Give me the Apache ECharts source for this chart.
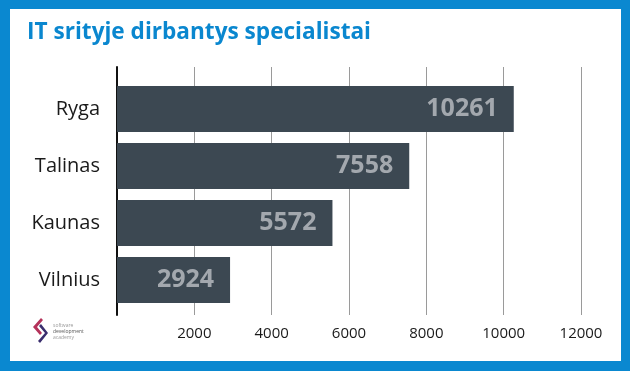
<!DOCTYPE html>
<html>
<head>
<meta charset="utf-8">
<script src="https://cdn.jsdelivr.net/npm/echarts@6/dist/echarts.min.js"></script>
<style>
html,body{margin:0;padding:0;}
#wrap{position:relative;width:630px;height:371px;background:#0a88d0;overflow:hidden;}
#white{position:absolute;left:10px;top:9px;width:611px;height:352px;background:#ffffff;}
#chart{position:absolute;left:0;top:0;width:630px;height:371px;}
</style>
</head>
<body>
<div id="wrap"><div id="white"></div><div id="chart"></div></div>
<script>
const titleText = 'IT srityje dirbantys specialistai';
const categories = ['Ryga', 'Talinas', 'Kaunas', 'Vilnius'];
const values = [10261, 7558, 5572, 2924];
const xTicks = [0, 2000, 4000, 6000, 8000, 10000, 12000];

const chart = echarts.init(document.getElementById('chart'), null, {renderer: 'canvas'});
const font = '"Open Sans", "Noto Sans", sans-serif';
const option = {
  animation: false,
  title: {
    text: titleText,
    left: 27,
    top: 21,
    padding: 0,
    textStyle: {color: '#0a87cf', fontSize: 22.6, fontWeight: 'bold', fontFamily: font}
  },
  grid: [
    {left: 117, right: 49, top: 80.5, bottom: 62.5},
    {left: 117, right: 49, top: 67, bottom: 56}
  ],
  xAxis: [
    {gridIndex: 0, type: 'value', min: xTicks[0], max: xTicks[xTicks.length - 1], interval: 2000,
     show: false},
    {gridIndex: 1, type: 'value', min: xTicks[0], max: xTicks[xTicks.length - 1], interval: 2000,
     axisLine: {show: false}, axisTick: {show: false},
     splitLine: {show: true, lineStyle: {color: '#9a9a9a', width: 1}},
     axisLabel: {show: true, showMinLabel: false, margin: 11, color: '#1a1a1a', fontSize: 15, fontFamily: font,
       formatter: function (v) { return xTicks.indexOf(v) > 0 ? String(v) : ''; }}}
  ],
  yAxis: [
    {gridIndex: 0, type: 'category', data: categories, inverse: true,
     axisLine: {show: false}, axisTick: {show: false},
     axisLabel: {margin: 17, color: '#1a1a1a', fontSize: 20, fontFamily: font}},
    {gridIndex: 1, type: 'value', min: 0, max: 1,
     axisLine: {show: true, lineStyle: {color: '#111', width: 2}},
     axisTick: {show: false}, axisLabel: {show: false}, splitLine: {show: false}}
  ],
  series: [{
    type: 'bar',
    xAxisIndex: 0, yAxisIndex: 0,
    data: values,
    barWidth: 46,
    itemStyle: {color: '#3c4852'},
    z: 3,
    label: {
      show: true, position: 'insideRight', distance: 16,
      color: '#a3a8ae', fontSize: 25, fontWeight: 'bold', fontFamily: font
    }
  }],
  graphic: [{
    type: 'group', left: 33, top: 318,
    children: [
      {type: 'polygon', shape: {points: [[10,0],[2,9],[9,17],[11,15],[6,9],[12,2]]}, style: {fill: '#b4325a'}},
      {type: 'polygon', shape: {points: [[8,8],[14,15],[7,23],[9,25],[17,15],[10,6]]}, style: {fill: '#3a2e6e'}},
      {type: 'text', x: 22, y: 5, style: {text: 'software', fontSize: 5, fill: '#9a9a9a', fontFamily: font}},
      {type: 'text', x: 22, y: 11, style: {text: 'development', fontSize: 5, fill: '#555', fontFamily: font}},
      {type: 'text', x: 22, y: 17, style: {text: 'academy', fontSize: 5, fill: '#9a9a9a', fontFamily: font}}
    ]
  }]
};
chart.setOption(option);
</script>
</body>
</html>
